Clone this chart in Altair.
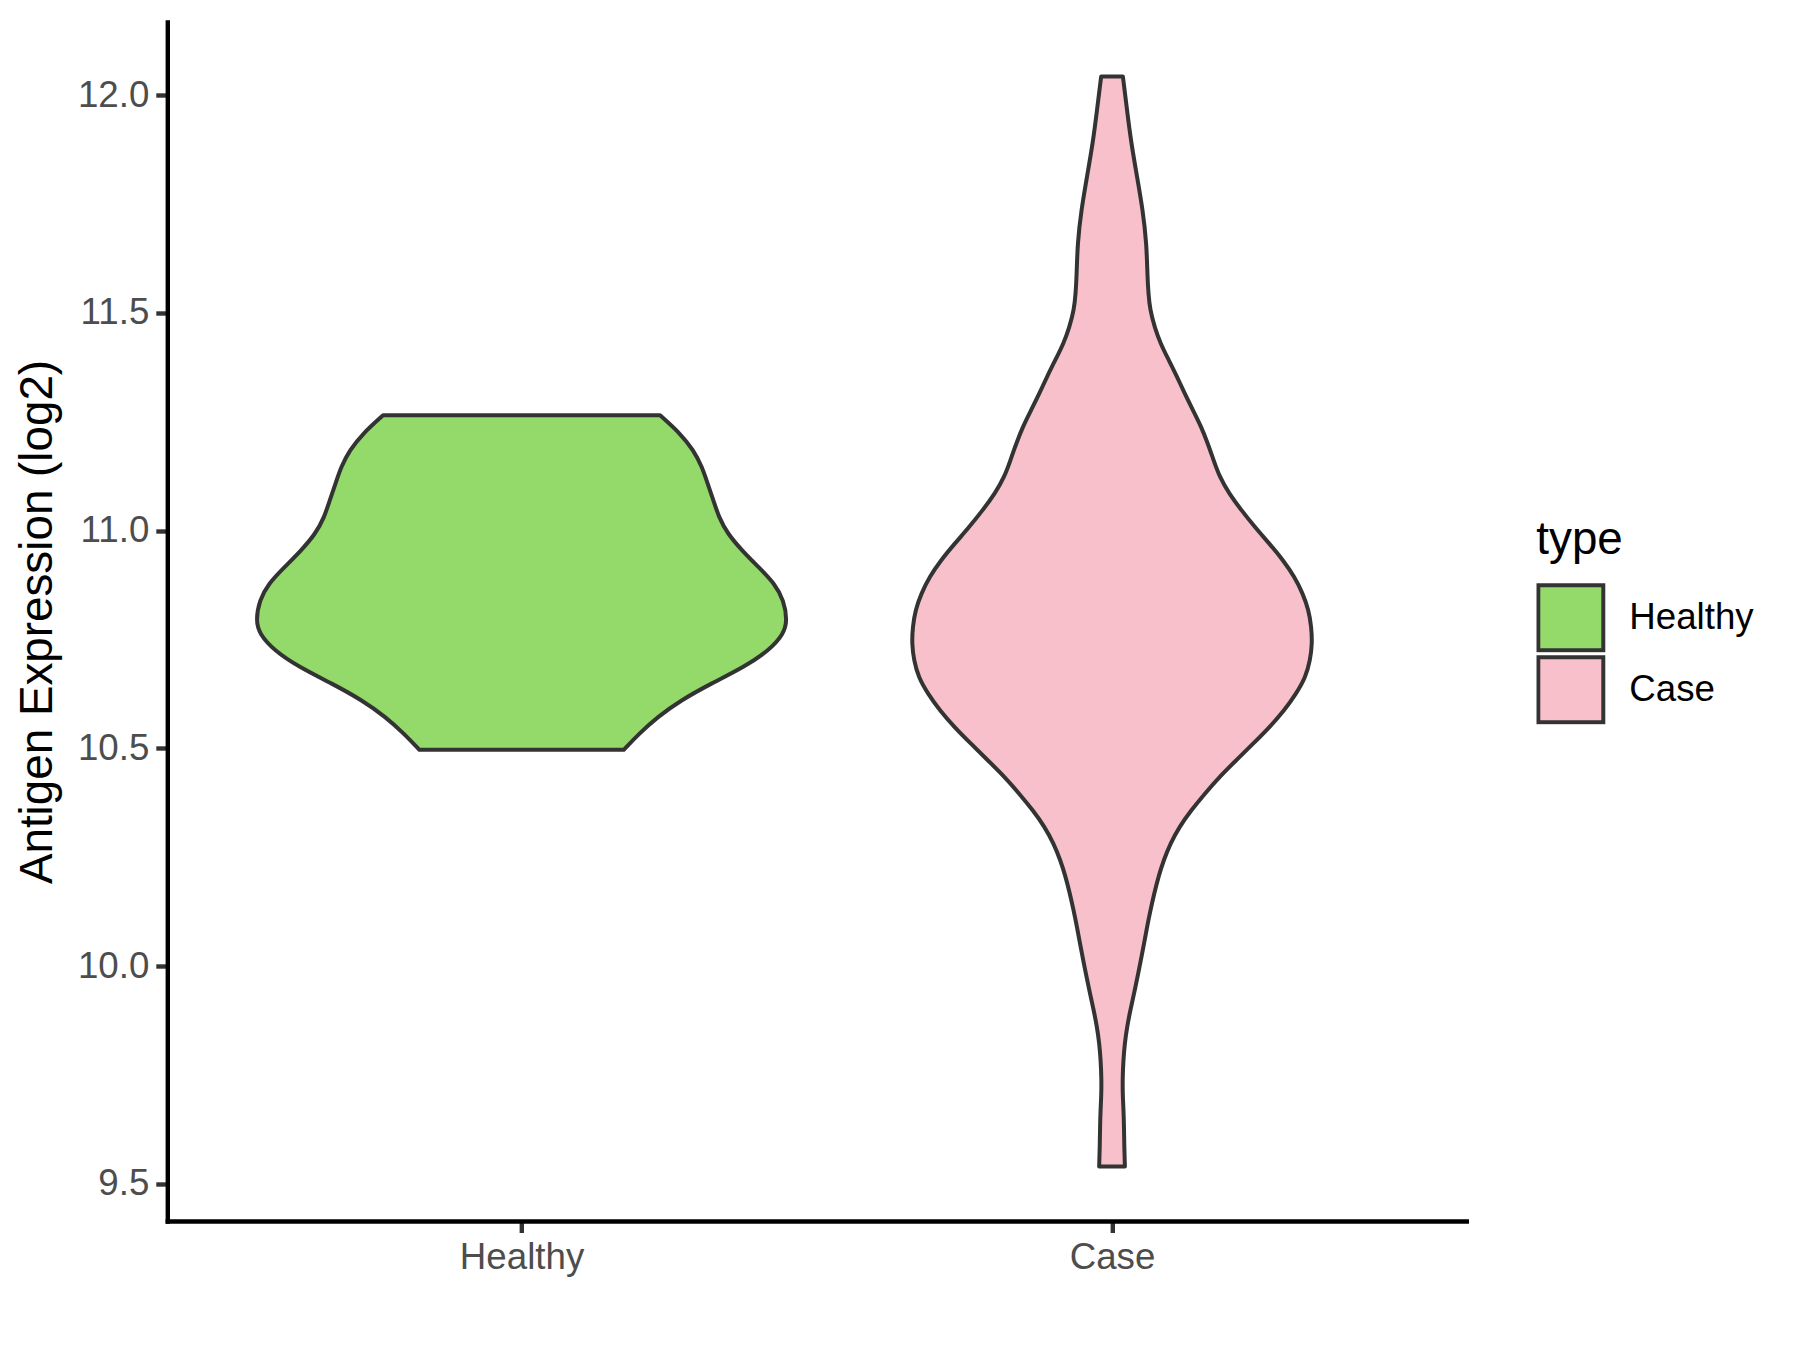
import altair as alt
import pandas as pd

# Categories and colours
types = ["Healthy", "Case"]
centers = [1, 2]
fill_colors = ["#93DA6A", "#F7C0CB"]

# Violin outlines: value (log2) and half-width (x units)
healthy_y = [11.265, 11.223, 11.185, 11.146, 11.108, 11.070, 11.031, 10.993, 10.955, 10.917,
             10.878, 10.840, 10.794, 10.763, 10.725, 10.687, 10.649, 10.610, 10.572, 10.534, 10.497]
healthy_w = [0.2345, 0.269, 0.291, 0.306, 0.315, 0.325, 0.334, 0.349, 0.373, 0.401,
             0.429, 0.444, 0.450, 0.444, 0.419, 0.377, 0.321, 0.269, 0.230, 0.199, 0.173]

case_y = [12.043, 11.966, 11.890, 11.813, 11.737, 11.660, 11.583, 11.545, 11.507, 11.468,
          11.430, 11.392, 11.354, 11.315, 11.277, 11.239, 11.201, 11.162, 11.124, 11.086,
          11.047, 11.009, 10.971, 10.932, 10.894, 10.856, 10.818, 10.779, 10.741, 10.703,
          10.664, 10.626, 10.588, 10.549, 10.511, 10.473, 10.435, 10.396, 10.358, 10.320,
          10.282, 10.244, 10.205, 10.167, 10.128, 10.090, 10.052, 10.014, 9.975, 9.937,
          9.899, 9.860, 9.822, 9.784, 9.746, 9.707, 9.669, 9.631, 9.593, 9.540]
case_w = [0.0184, 0.0254, 0.0325, 0.0424, 0.052, 0.0585, 0.060, 0.0616, 0.0644, 0.072,
          0.082, 0.096, 0.110, 0.123, 0.137, 0.151, 0.162, 0.172, 0.182, 0.198,
          0.219, 0.2415, 0.266, 0.290, 0.309, 0.323, 0.333, 0.3376, 0.339, 0.3356,
          0.328, 0.312, 0.292, 0.267, 0.239, 0.2105, 0.182, 0.157, 0.134, 0.114,
          0.099, 0.0876, 0.0785, 0.0715, 0.065, 0.0593, 0.0542, 0.0489, 0.043, 0.0373,
          0.031, 0.0254, 0.0215, 0.0192, 0.018, 0.018, 0.0195, 0.0203, 0.0206, 0.0218]

y_ticks = [9.5, 10.0, 10.5, 11.0, 11.5, 12.0]

rows = []
for t, c, ys, ws in [("Healthy", 1, healthy_y, healthy_w), ("Case", 2, case_y, case_w)]:
    for v, w in zip(ys, ws):
        rows.append({"type": t, "value": v, "lo": c - w, "hi": c + w})
df = pd.DataFrame(rows).sort_values(["type", "value"]).reset_index(drop=True)

FONT = "Liberation Sans"

chart = alt.Chart(df).mark_area(
    orient="horizontal", interpolate="basis",
    stroke="#333333", strokeWidth=4, strokeJoin="round", opacity=1
).encode(
    y=alt.Y("value:Q",
            scale=alt.Scale(domain=[9.415, 12.168], nice=False, zero=False),
            axis=alt.Axis(values=y_ticks, format=".1f", title="Antigen Expression (log2)",
                          grid=False, tickSize=11.5, tickWidth=4.4, tickColor="#333333",
                          domainColor="#000000", domainWidth=4.4, domainCap="square",
                          labelFont=FONT, labelFontSize=36.7, labelColor="#4D4D4D",
                          labelPadding=7, titleFont=FONT, titleFontSize=45.8,
                          titleFontWeight="normal", titleColor="#000000", titlePadding=16)),
    x=alt.X("lo:Q",
            scale=alt.Scale(domain=[0.4, 2.6], nice=False, zero=False),
            axis=alt.Axis(values=centers, labelExpr="datum.value == 1 ? 'Healthy' : 'Case'",
                          title=None, grid=False, tickSize=11.5, tickWidth=4.4,
                          tickColor="#333333", domainColor="#000000", domainWidth=4.4,
                          domainCap="square", labelFont=FONT, labelFontSize=36.7,
                          labelColor="#4D4D4D", labelPadding=7)),
    x2="hi:Q",
    fill=alt.Fill("type:N",
                  scale=alt.Scale(domain=types, range=fill_colors),
                  legend=alt.Legend(title="type", orient="none", legendX=1369, legendY=496,
                                    symbolType="square", symbolSize=4225,
                                    symbolStrokeColor="#333333", symbolStrokeWidth=4,
                                    symbolOpacity=1, titleFont=FONT, titleFontSize=45.8,
                                    titleFontWeight="normal", titleColor="#000000",
                                    labelFont=FONT, labelFontSize=36.7, labelColor="#000000",
                                    labelOffset=24, clipHeight=70, rowPadding=2,
                                    titlePadding=19, padding=0)),
).properties(
    width=1299, height=1199,
    background="#FFFFFF",
    autosize=alt.AutoSizeParams(type="none"),
    padding={"left": 159.3, "top": 14, "right": 320, "bottom": 110},
).configure_view(stroke=None)

chart.save("out.html", embed_options={"renderer": "svg", "actions": False})
